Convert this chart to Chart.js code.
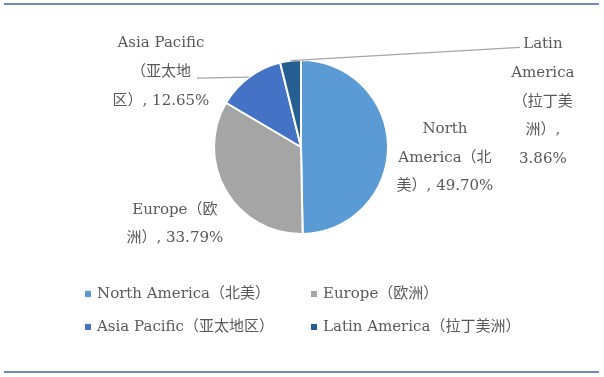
<!DOCTYPE html>
<html>
<head>
<meta charset="utf-8">
<script src="https://cdn.jsdelivr.net/npm/chart.js@4"></script>
<style>
html,body{margin:0;padding:0;background:#fff;}
#wrap{position:relative;width:604px;height:377px;}
</style>
</head>
<body>
<div id="wrap"><canvas id="c" width="604" height="377"></canvas></div>
<script>
const categories = ['North America（北美）', 'Europe（欧洲）', 'Asia Pacific（亚太地区）', 'Latin America（拉丁美洲）'];
const shares = [49.70, 33.79, 12.65, 3.86];
const colors = ['#5B9BD5', '#A5A5A5', '#4472C4', '#255E91'];

const FONT = '15px "DejaVu Serif", "Noto Sans CJK SC", serif';
const TEXT = '#595959';

// label placement: offset of the label block centre from the pie centre (radius units),
// and the text segments at which each label wraps (the remainder forms the last line)
const labelLayout = [
  {dx: 1.655, dy: 0.125, wrapAt: ['North ', 'America（北'], leader: false},
  {dx: -1.45, dy: 0.885, wrapAt: ['Europe（欧'], leader: false},
  {dx: -1.61, dy: -0.86, wrapAt: ['Asia Pacific', '（亚太地'], leader: 'right'},
  {dx: 2.78, dy: -0.52, wrapAt: ['Latin ', 'America', '（拉丁美', '洲）, '], leader: 'left'}
];

function splitLines(text, segs){
  const lines = [];
  let rest = text;
  for (const s of segs){
    if (rest.startsWith(s)){ lines.push(s.trim()); rest = rest.slice(s.length); }
  }
  if (rest.trim()) lines.push(rest.trim());
  return lines;
}

const labelPlugin = {
  id: 'labels',
  afterDatasetsDraw(chart){
    const ctx = chart.ctx;
    const meta = chart.getDatasetMeta(0);
    ctx.save();
    ctx.font = FONT;
    ctx.fillStyle = TEXT;
    ctx.textAlign = 'center';
    ctx.textBaseline = 'middle';
    const lh = 28.7;
    meta.data.forEach((arc, i) => {
      const {x, y, startAngle, endAngle, outerRadius} = arc.getProps(['x','y','startAngle','endAngle','outerRadius'], true);
      const L = labelLayout[i];
      const text = categories[i] + ', ' + shares[i].toFixed(2) + '%';
      const lines = splitLines(text, L.wrapAt);
      const cx = x + L.dx * outerRadius;
      const cy = y + L.dy * outerRadius;
      const top = cy - (lines.length - 1) * lh / 2;
      if (L.leader){
        const mid = (startAngle + endAngle) / 2;
        const px = x + Math.cos(mid) * outerRadius;
        const py = y + Math.sin(mid) * outerRadius;
        let ex, ey;
        if (L.leader === 'right'){
          ex = cx + 36; ey = top + lh + 6;
        } else {
          ex = cx - 23; ey = top + 3;
        }
        ctx.strokeStyle = '#A6A6A6';
        ctx.lineWidth = 1.2;
        ctx.beginPath();
        ctx.moveTo(px, py);
        ctx.lineTo(ex, ey);
        ctx.stroke();
      }
      lines.forEach((ln, k) => ctx.fillText(ln, cx, top + k * lh));
    });
    ctx.restore();
  }
};

const legendPlugin = {
  id: 'customLegend',
  afterDraw(chart){
    const ctx = chart.ctx;
    ctx.save();
    ctx.font = FONT;
    ctx.textBaseline = 'middle';
    ctx.textAlign = 'left';
    const cols = [85, 311];
    const rows = [294, 327];
    categories.forEach((c, i) => {
      const x = cols[i % 2], y = rows[Math.floor(i / 2)];
      ctx.fillStyle = colors[i];
      ctx.fillRect(x, y - 3, 6, 6);
      ctx.fillStyle = TEXT;
      ctx.fillText(c, x + 12, y);
    });
    // frame lines
    ctx.fillStyle = '#6F8CC0';
    ctx.fillRect(4, 3, 595, 2);
    ctx.fillRect(4, 371, 595, 2);
    ctx.restore();
  }
};

new Chart(document.getElementById('c'), {
  type: 'pie',
  data: {
    labels: categories,
    datasets: [{
      data: shares,
      backgroundColor: colors,
      borderColor: '#FFFFFF',
      borderWidth: 2,
      radius: 87
    }]
  },
  options: {
    responsive: false,
    animation: false,
    layout: {padding: {left: 100, right: 102, top: 40, bottom: 123}},
    plugins: {legend: {display: false}, tooltip: {enabled: false}}
  },
  plugins: [labelPlugin, legendPlugin]
});
</script>
</body>
</html>
